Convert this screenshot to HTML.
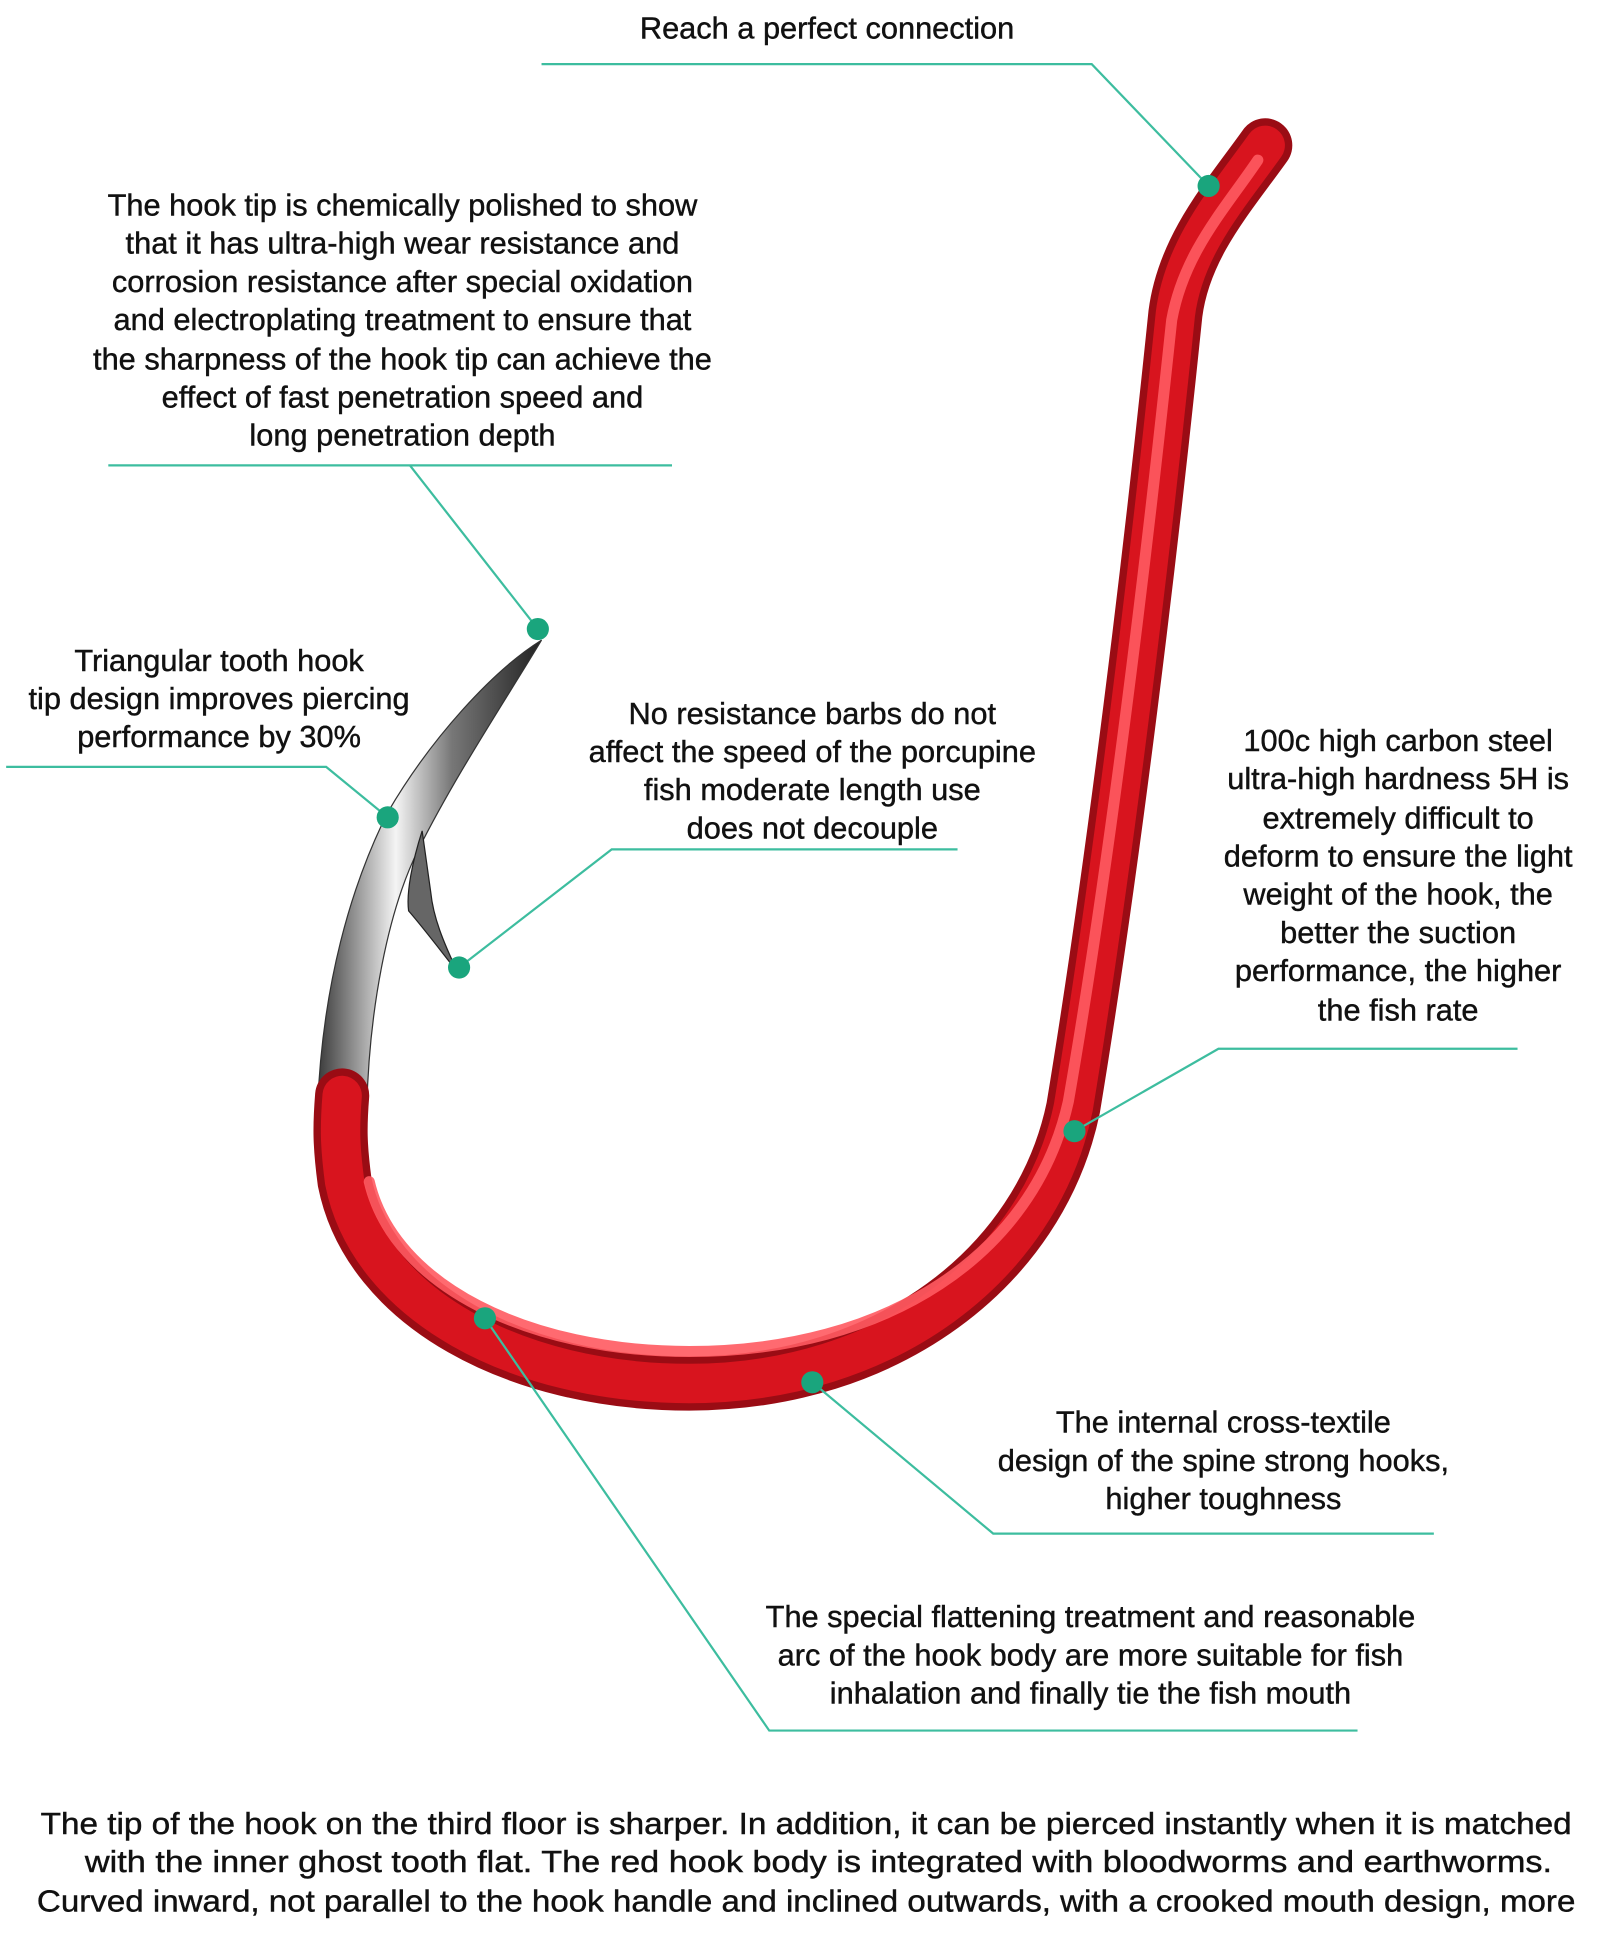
<!DOCTYPE html>
<html><head><meta charset="utf-8"><style>
html,body{margin:0;padding:0;background:#fff;}
svg{display:block;}
text{font-family:"Liberation Sans","DejaVu Sans",sans-serif;fill:#111;font-size:25px;stroke:#111;stroke-width:0.35px;}
</style></head><body>
<svg width="1600" height="1935" viewBox="0 0 1300 1572" xmlns="http://www.w3.org/2000/svg">
<defs>
<linearGradient id="sil" x1="0" y1="0" x2="1" y2="0">
<stop offset="0" stop-color="#3a3a3a"/><stop offset="0.35" stop-color="#f4f4f4"/><stop offset="0.6" stop-color="#777"/><stop offset="1" stop-color="#222"/>
</linearGradient>
</defs>
<path d="M440 520 C400 545 350 600 315 660 C285 720 262 800 258 900 L298 900 C300 820 315 740 340 690 C370 630 410 570 440 520 Z" fill="url(#sil)" stroke="#333" stroke-width="1"/>
<path d="M343 675 C335 700 330 725 332 740 C345 755 360 775 372 790 C360 765 352 745 350 725 Z" fill="#666" stroke="#222" stroke-width="1"/>
<path d="M1028 118 C998 160 962 200 955 255 C935 450 905 700 872 900 C845 1030 720 1124 560 1124 C420 1124 300 1060 280 960 C276 930 276 915 278 890" fill="none" stroke="#9a0c14" stroke-width="44" stroke-linecap="round"/>
<path d="M1028 118 C998 160 962 200 955 255 C935 450 905 700 872 900 C845 1030 720 1124 560 1124 C420 1124 300 1060 280 960 C276 930 276 915 278 890" fill="none" stroke="#d8141e" stroke-width="32" stroke-linecap="round"/>
<path d="M1022 130 C995 170 962 205 952 260 C932 450 902 700 868 895 C840 1020 720 1098 560 1098 C430 1098 320 1045 300 960" fill="none" stroke="#ff5a60" stroke-width="9" stroke-linecap="round" opacity="0.9"/>
<g fill="none" stroke="#3dbd9f" stroke-width="1.8">
<polyline points="440,52 887,52 982,151"/>
<polyline points="88,378 546,378"/>
<polyline points="333,378 437,511"/>
<polyline points="5,623 265,623 315,664"/>
<polyline points="778,690 497,690 373,786"/>
<polyline points="1233,852 990,852 873,919"/>
<polyline points="1165,1246 807,1246 660,1123"/>
<polyline points="1103,1406 625,1406 394,1071"/>
</g>
<g fill="#1aa57d">
<circle cx="982" cy="151" r="9"/><circle cx="437" cy="511" r="9"/><circle cx="315" cy="664" r="9"/>
<circle cx="373" cy="786" r="9"/><circle cx="873" cy="919" r="9"/><circle cx="660" cy="1123" r="9"/>
<circle cx="394" cy="1071" r="9"/>
</g>
<g text-anchor="middle">
<text x="672" y="31">Reach a perfect connection</text>
<text x="327" y="175">The hook tip is chemically polished to show</text>
<text x="327" y="206">that it has ultra-high wear resistance and</text>
<text x="327" y="237">corrosion resistance after special oxidation</text>
<text x="327" y="268">and electroplating treatment to ensure that</text>
<text x="327" y="300">the sharpness of the hook tip can achieve the</text>
<text x="327" y="331">effect of fast penetration speed and</text>
<text x="327" y="362">long penetration depth</text>
<text x="178" y="545">Triangular tooth hook</text>
<text x="178" y="576">tip design improves piercing</text>
<text x="178" y="607">performance by 30%</text>
<text x="660" y="588">No resistance barbs do not</text>
<text x="660" y="619">affect the speed of the porcupine</text>
<text x="660" y="650">fish moderate length use</text>
<text x="660" y="681">does not decouple</text>
<text x="1136" y="610">100c high carbon steel</text>
<text x="1136" y="641">ultra-high hardness 5H is</text>
<text x="1136" y="673">extremely difficult to</text>
<text x="1136" y="704">deform to ensure the light</text>
<text x="1136" y="735">weight of the hook, the</text>
<text x="1136" y="766">better the suction</text>
<text x="1136" y="797">performance, the higher</text>
<text x="1136" y="829">the fish rate</text>
<text x="994" y="1164">The internal cross-textile</text>
<text x="994" y="1195">design of the spine strong hooks,</text>
<text x="994" y="1226">higher toughness</text>
<text x="886" y="1322">The special flattening treatment and reasonable</text>
<text x="886" y="1353">arc of the hook body are more suitable for fish</text>
<text x="886" y="1384">inhalation and finally tie the fish mouth</text>
</g>
<text x="33" y="1490" textLength="1244" lengthAdjust="spacingAndGlyphs">The tip of the hook on the third floor is sharper. In addition, it can be pierced instantly when it is matched</text>
<text x="69" y="1521" textLength="1192" lengthAdjust="spacingAndGlyphs">with the inner ghost tooth flat. The red hook body is integrated with bloodworms and earthworms.</text>
<text x="30" y="1553" textLength="1250" lengthAdjust="spacingAndGlyphs">Curved inward, not parallel to the hook handle and inclined outwards, with a crooked mouth design, more</text>
</svg>
</body></html>
